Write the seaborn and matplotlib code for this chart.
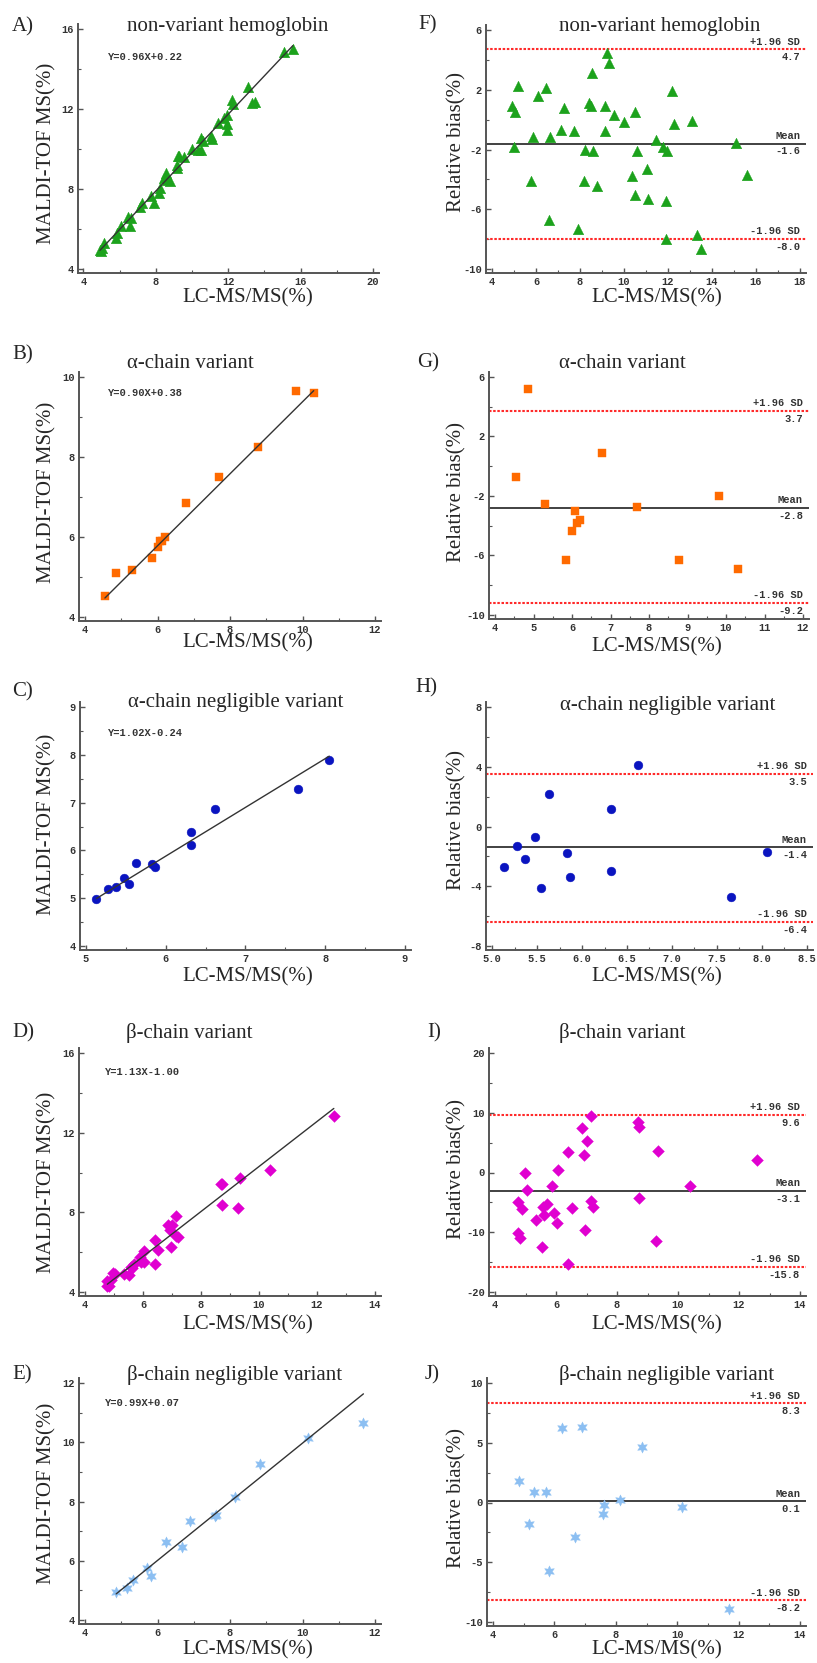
import matplotlib
matplotlib.use('Agg')
import matplotlib.pyplot as plt
import seaborn as sns
import numpy as np
from matplotlib.ticker import AutoMinorLocator, FormatStrFormatter

W, H = 817, 1663

# ---- data ----
# non-variant hemoglobin (A / F)
nv_lcms = [4.91, 5.03, 5.16, 4.98, 5.86, 5.77, 6.07, 6.47, 6.65, 6.57, 7.25, 7.15, 7.71, 7.89, 8.24,
           8.16, 8.43, 8.51, 8.54, 8.61, 8.77, 9.14, 9.14, 9.22, 9.30, 9.55, 10.01, 10.35, 10.50, 10.50,
           10.61, 11.03, 11.08, 11.44, 11.79, 11.94, 11.91, 11.91, 12.20, 12.29, 13.11, 13.33, 13.50,
           15.07, 15.57]
nv_maldi = [4.96, 5.05, 5.28, 4.89, 5.79, 5.53, 6.17, 6.61, 6.57, 6.13, 7.31, 7.10, 7.65, 7.31, 8.07,
            7.82, 8.53, 8.58, 8.80, 8.43, 8.38, 9.22, 9.07, 9.63, 9.66, 9.58, 9.99, 9.96, 10.55, 9.97,
            10.38, 10.66, 10.49, 11.29, 11.57, 11.69, 11.26, 10.96, 12.43, 12.25, 13.10, 12.30, 12.33,
            14.83, 14.99]
nv_bias = [0.92, 0.48, 2.26, -1.84, -1.17, -4.13, 1.59, 2.10, -1.17, -6.69, 0.81, -0.68, -0.79, -7.32,
           -2.06, -4.13, 1.14, 0.88, 3.10, -2.13, -4.42, 0.88, -0.79, 4.49, 3.82, 0.28, -0.19, -3.80,
           0.48, -5.02, -2.13, -3.31, -5.29, -1.35, -1.86, -2.13, -5.47, -7.99, 1.92, -0.30, -0.06,
           -7.70, -8.65, -1.57, -3.73]

# alpha-chain variant (B / G)
ac_lcms = [4.55, 4.85, 5.31, 5.84, 6.00, 6.08, 6.12, 6.21, 6.78, 7.70, 8.77, 9.81, 10.31]
ac_maldi = [4.52, 5.10, 5.18, 5.47, 5.74, 5.90, 5.89, 5.99, 6.86, 7.50, 8.25, 9.65, 9.61]
ac_bias = [-0.71, 5.17, -2.55, -6.30, -4.38, -2.99, -3.80, -3.62, 0.90, -2.72, -6.33, -1.99, -6.89]

# alpha-chain negligible variant (C / H)
an_lcms = [5.13, 5.28, 5.37, 5.48, 5.54, 5.63, 5.83, 5.87, 6.32, 6.32, 6.62, 7.66, 8.05]
an_maldi = [4.99, 5.19, 5.23, 5.43, 5.29, 5.73, 5.71, 5.66, 6.38, 6.12, 6.87, 7.28, 7.89]
an_bias = [-2.7, -1.3, -2.2, -0.7, -4.1, 2.2, -1.8, -3.4, 1.2, -3.0, 4.1, -4.7, -1.7]

# beta-chain variant (D / I)
bc_lcms = [4.77, 4.88, 4.77, 4.82, 4.98, 5.04, 5.34, 5.53, 5.57, 5.61, 5.69, 5.88, 5.93, 6.02, 6.05,
           6.40, 6.40, 6.51, 6.85, 6.92, 7.01, 6.95, 7.14, 7.14, 7.20, 8.68, 8.73, 8.72, 9.27, 9.36,
           10.39, 12.58]
bc_maldi = [4.53, 4.58, 4.28, 4.29, 4.97, 4.89, 4.92, 4.84, 5.25, 5.21, 5.39, 5.75, 5.53, 5.51, 6.07,
            6.62, 5.42, 6.13, 7.35, 7.12, 7.38, 6.27, 7.82, 6.80, 6.78, 9.41, 9.40, 8.35, 8.21, 9.70,
            10.15, 12.84]
bc_bias = [-4.9, -6.1, -10.2, -11.0, -0.1, -3.0, -7.9, -12.4, -5.7, -7.1, -5.2, -2.2, -6.8, -8.5, 0.4,
           3.4, -15.3, -5.9, 7.4, 2.9, 5.3, -9.7, 9.5, -4.7, -5.8, 8.4, 7.6, -4.3, -11.4, 3.6,
           -2.3, 2.1]

# beta-chain negligible variant (E / J)
bn_lcms = [4.86, 5.16, 5.33, 5.72, 5.83, 6.24, 6.67, 6.90, 7.60, 7.59, 8.13, 8.84, 10.16, 11.68]
bn_maldi = [4.94, 5.07, 5.36, 5.75, 5.48, 6.63, 6.47, 7.33, 7.56, 7.51, 8.16, 9.27, 10.13, 10.64]
bn_bias = [1.80, -1.77, 0.90, 0.87, -5.73, 6.24, -2.92, 6.35, -0.25, -0.96, 0.25, 4.66, -0.37, -8.90]

# regression equations and Bland-Altman limits (upper, mean, lower)
reg_coefs = [(0.96, 0.22), (0.90, 0.38), (1.02, -0.24), (1.13, -1.00), (0.99, 0.07)]
reg_texts = ['Y=0.96X+0.22', 'Y=0.90X+0.38', 'Y=1.02X-0.24', 'Y=1.13X-1.00', 'Y=0.99X+0.07']
ba_limits = [(4.7, -1.6, -8.0), (3.7, -2.8, -9.2), (3.5, -1.4, -6.4), (9.6, -3.1, -15.8), (8.3, 0.1, -8.2)]

titles = ['non-variant hemoglobin', 'α-chain variant', 'α-chain negligible variant',
          'β-chain variant', 'β-chain negligible variant']
colors = ['#1ca21c', '#ff6a00', '#0a14c0', '#e000d0', '#8cbff2']
markers = ['^', 's', 'o', 'D', (6, 1, 0)]
msizes = [58, 38, 40, 36, 65]

groups = [(nv_lcms, nv_maldi, nv_bias), (ac_lcms, ac_maldi, ac_bias), (an_lcms, an_maldi, an_bias),
          (bc_lcms, bc_maldi, bc_bias), (bn_lcms, bn_maldi, bn_bias)]

# layout (pixel positions of first/last ticks, text anchors)
left_layout = [
    dict(letter='A)', xt=(4, 20, 4), yt=(4, 16, 4), pxx=(83.5, 373), pxy=(29, 269), title=(228, 27),
         let=(12, 27), xl=(248, 298), yl=(47, 153), eq=(108, 57)),
    dict(letter='B)', xt=(4, 12, 2), yt=(4, 10, 2), pxx=(85, 375), pxy=(377, 617), title=(190, 363),
         let=(12, 355), xl=(248, 643), yl=(47, 492), eq=(108, 393)),
    dict(letter='C)', xt=(5, 9, 1), yt=(4, 9, 1), pxx=(86, 405), pxy=(707, 946), title=(236, 703),
         let=(12, 692), xl=(248, 977), yl=(47, 824), eq=(108, 733)),
    dict(letter='D)', xt=(4, 14, 2), yt=(4, 16, 4), pxx=(85, 375), pxy=(1053, 1292), title=(189, 1033),
         let=(12, 1033), xl=(248, 1325), yl=(47, 1182), eq=(105, 1072)),
    dict(letter='E)', xt=(4, 12, 2), yt=(4, 12, 2), pxx=(85, 375), pxy=(1383, 1620), title=(235, 1375),
         let=(12, 1375), xl=(248, 1650), yl=(47, 1493), eq=(105, 1403)),
]
right_layout = [
    dict(letter='F)', xt=(4, 18, 2), yt=(-10, 6, 4), pxx=(492, 800), pxy=(30, 269), title=(660, 27),
         let=(418, 25), xl=(657, 298), yl=(457, 142)),
    dict(letter='G)', xt=(4, 12, 1), yt=(-10, 6, 4), pxx=(495, 803), pxy=(377, 615), title=(622, 363),
         let=(417, 363), xl=(657, 647), yl=(457, 492)),
    dict(letter='H)', xt=(5, 8.5, 0.5), yt=(-8, 8, 4), pxx=(492, 807), pxy=(707, 946), title=(668, 705),
         let=(415, 688), xl=(657, 977), yl=(457, 820)),
    dict(letter='I)', xt=(4, 14, 2), yt=(-20, 20, 10), pxx=(495, 800), pxy=(1053, 1292), title=(622, 1033),
         let=(427, 1033), xl=(657, 1325), yl=(457, 1169)),
    dict(letter='J)', xt=(4, 14, 2), yt=(-10, 10, 5), pxx=(493, 800), pxy=(1383, 1622), title=(667, 1375),
         let=(425, 1375), xl=(657, 1650), yl=(457, 1498)),
]

sns.set_theme(style='ticks')
plt.rcParams['font.family'] = ['Liberation Serif', 'DejaVu Serif']

fig = plt.figure(figsize=(W / 100, H / 100), dpi=100)
AX_COL = '#555555'
SMALL = dict(family='Liberation Mono', weight='bold', size=7.5, color='#333333')


def fx(px):
    return px / W


def fy(py):
    return 1 - py / H


def make_axes(lay, pad=(0.02, 0.02, 0.015, 0.02)):
    (x0, x1, xs), (y0, y1, ys) = lay['xt'], lay['yt']
    px0, px1 = lay['pxx']
    ptop, pbot = lay['pxy']
    pl, pr, pb, pt = pad
    wpx, hpx = px1 - px0, pbot - ptop
    left, right = px0 - pl * wpx, px1 + pr * wpx
    top, bottom = ptop - pt * hpx, pbot + pb * hpx
    ax = fig.add_axes([fx(left), fy(bottom), (right - left) / W, (bottom - top) / H])
    ax.set_xlim(x0 - pl * (x1 - x0), x1 + pr * (x1 - x0))
    ax.set_ylim(y0 - pb * (y1 - y0), y1 + pt * (y1 - y0))
    ax.set_xticks(np.arange(x0, x1 + xs / 2, xs))
    ax.set_yticks(np.arange(y0, y1 + ys / 2, ys))
    ax.xaxis.set_minor_locator(AutoMinorLocator(2))
    ax.yaxis.set_minor_locator(AutoMinorLocator(2))
    if xs < 1:
        ax.xaxis.set_major_formatter(FormatStrFormatter('%.1f'))
    else:
        ax.xaxis.set_major_formatter(FormatStrFormatter('%g'))
    ax.yaxis.set_major_formatter(FormatStrFormatter('%g'))
    for s in ['top', 'right']:
        ax.spines[s].set_visible(False)
    for s in ['left', 'bottom']:
        ax.spines[s].set_color(AX_COL)
        ax.spines[s].set_linewidth(1.4)
    ax.tick_params(which='major', direction='in', length=3.5, width=1, color=AX_COL,
                   labelsize=7.5, labelcolor='#333333', pad=3)
    ax.tick_params(which='minor', direction='in', length=2, width=0.8, color=AX_COL)
    for lbl in ax.get_xticklabels() + ax.get_yticklabels():
        lbl.set_fontfamily('Liberation Mono')
        lbl.set_fontweight('bold')
    ax.set_facecolor('white')
    return ax


def decorate(ax, lay, title, ylabel):
    fig.text(fx(lay['title'][0]), fy(lay['title'][1]), title, ha='center', va='center', fontsize=15)
    fig.text(fx(lay['let'][0]), fy(lay['let'][1]), lay['letter'], ha='left', va='center', fontsize=15)
    ax.set_xlabel('LC-MS/MS(%)', fontsize=15)
    ax.xaxis.set_label_coords(fx(lay['xl'][0]), fy(lay['xl'][1]), transform=fig.transFigure)
    ax.xaxis.label.set_va('center')
    ax.set_ylabel(ylabel, fontsize=15)
    ax.yaxis.set_label_coords(fx(lay['yl'][0]), fy(lay['yl'][1]), transform=fig.transFigure)
    ax.yaxis.label.set_va('center')


for i, (x, y, b) in enumerate(groups):
    # regression panel
    lay = left_layout[i]
    ax = make_axes(lay)
    slope, icpt = reg_coefs[i]
    xl = np.array([min(x), max(x)])
    ax.plot(xl, slope * xl + icpt, color='#333333', lw=1.0, zorder=3)
    sns.scatterplot(x=x, y=y, ax=ax, marker=markers[i], color=colors[i], s=msizes[i],
                    edgecolor=colors[i], linewidth=0.3, zorder=2, legend=False)
    fig.text(fx(lay['eq'][0]), fy(lay['eq'][1]), reg_texts[i], ha='left', va='center', **SMALL)
    decorate(ax, lay, titles[i], 'MALDI-TOF MS(%)')

    # Bland-Altman panel
    lay = right_layout[i]
    ax = make_axes(lay)
    up, mean, lo = ba_limits[i]
    ax.axhline(mean, color='#333333', lw=1.3, zorder=1)
    for v in (up, lo):
        ax.axhline(v, color='#ff2a2a', lw=1.5, ls=(0, (1.2, 0.8)), zorder=1)
    sns.scatterplot(x=x, y=b, ax=ax, marker=markers[i], color=colors[i], s=msizes[i],
                    edgecolor=colors[i], linewidth=0.3, zorder=2, legend=False)
    xr = lay['xt'][1]
    for v, name in ((up, '+1.96 SD'), (mean, 'Mean'), (lo, '-1.96 SD')):
        ax.annotate(name, (xr, v), xytext=(0, 2), textcoords='offset points',
                    ha='right', va='bottom', **SMALL)
        ax.annotate(f'{v:.1f}', (xr, v), xytext=(0, -2), textcoords='offset points',
                    ha='right', va='top', **SMALL)
    decorate(ax, lay, titles[i], 'Relative bias(%)')

fig.savefig('out.png', dpi=100, facecolor='white')
